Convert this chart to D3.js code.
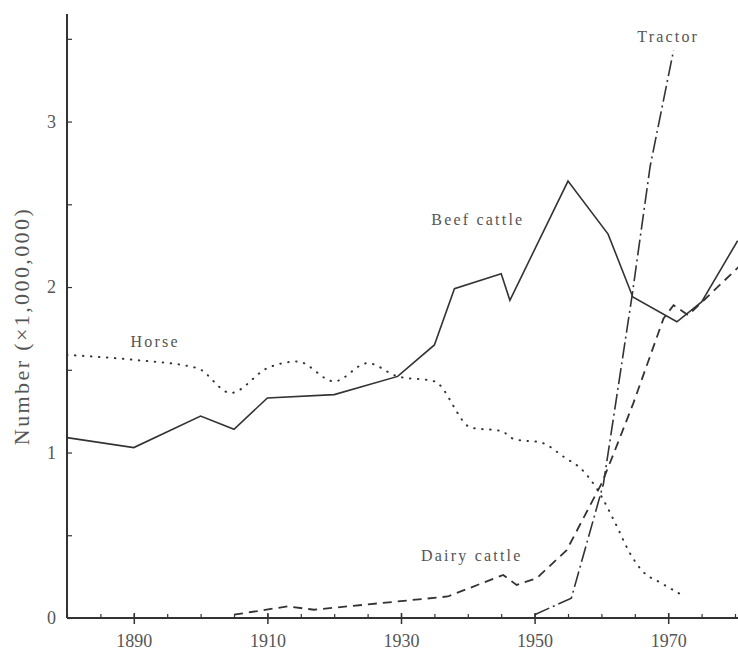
<!DOCTYPE html>
<html>
<head>
<meta charset="utf-8">
<script src="https://cdn.jsdelivr.net/npm/d3@7"></script>
<style>
  html, body { margin: 0; padding: 0; background: #fff; }
  svg { display: block; }
  text { font-family: "Liberation Serif", "DejaVu Serif", serif; fill: #555; }
</style>
</head>
<body>
<svg id="chart" width="738" height="650"></svg>
<script>
// ---- Data (years, values in millions) ----
const beefYears   = [1880, 1890, 1900, 1905, 1910, 1920, 1929.5, 1935, 1938, 1945, 1946.3, 1955, 1961, 1964.7, 1971.3, 1975, 1980.4];
const beefValues  = [1.09, 1.03, 1.22, 1.14, 1.33, 1.35, 1.46, 1.65, 1.99, 2.08, 1.92, 2.64, 2.32, 1.94, 1.79, 1.91, 2.28];

const horseYears  = [1880, 1890, 1899.5, 1904.5, 1910, 1914.5, 1920, 1925, 1929.5, 1935, 1940.5, 1945, 1947, 1951, 1954.5, 1957, 1959.5, 1962, 1964.3, 1966, 1969, 1972.5];
const horseValues = [1.59, 1.56, 1.51, 1.36, 1.51, 1.55, 1.43, 1.54, 1.46, 1.43, 1.15, 1.13, 1.08, 1.06, 0.97, 0.90, 0.77, 0.58, 0.39, 0.29, 0.21, 0.13];

const dairyYears  = [1905, 1913, 1917, 1937, 1945.3, 1946.3, 1947.3, 1950.3, 1954.8, 1958.3, 1960, 1962, 1964.8, 1969.3, 1970.8, 1973, 1980.5];
const dairyValues = [0.02, 0.07, 0.05, 0.13, 0.26, 0.23, 0.20, 0.24, 0.41, 0.68, 0.81, 1.01, 1.30, 1.81, 1.89, 1.83, 2.12];

const tractorYears  = [1950, 1955.5, 1960.3, 1964.6, 1967.3, 1970.8];
const tractorValues = [0.02, 0.12, 0.81, 1.95, 2.73, 3.43];

const xMinorTicks = d3.range(1880, 1981, 5);
const xMajorTicks = [1890, 1910, 1930, 1950, 1970];
const yTicks = [0, 0.5, 1, 1.5, 2, 2.5, 3, 3.5];
const yLabelTicks = [0, 1, 2, 3];

const seriesLabels = [
  { text: "Horse", year: 1893.2, value: 1.635 },
  { text: "Beef cattle", year: 1941.5, value: 2.375 },
  { text: "Dairy cattle", year: 1940.6, value: 0.345 },
  { text: "Tractor", year: 1970.0, value: 3.48 }
];
const yTitle = "Number (\u00d71,000,000)";

// ---- Layout ----
const svg = d3.select("#chart");
const x = d3.scaleLinear().domain([1880, 1980]).range([67, 735]);
const y = d3.scaleLinear().domain([0, 3.65]).range([618, 14]);
const ink = "#333";

// Axes
const xMinor = svg.append("g")
  .attr("transform", `translate(0,${y(0)})`)
  .call(d3.axisBottom(x).tickValues(xMinorTicks).tickSize(-4).tickSizeOuter(0).tickFormat(""));
xMinor.select(".domain").attr("stroke", ink).attr("stroke-width", 2)
  .attr("d", `M${x(1880)},0H${x(1980) + 3}`);
xMinor.selectAll(".tick line").attr("stroke", ink).attr("stroke-width", 1.2);

const xMajor = svg.append("g")
  .attr("transform", `translate(0,${y(0)})`)
  .call(d3.axisBottom(x).tickValues(xMajorTicks).tickSize(6).tickSizeOuter(0).tickPadding(10).tickFormat(d3.format("d")));
xMajor.select(".domain").remove();
xMajor.selectAll(".tick line").attr("stroke", ink).attr("stroke-width", 1.5).attr("y1", -5);
xMajor.selectAll(".tick text").attr("font-size", 18).attr("fill", "#555")
  .style("font-family", '"Liberation Serif", serif');

const yAxis = svg.append("g")
  .attr("transform", `translate(${x(1880)},0)`)
  .call(d3.axisLeft(y).tickValues(yTicks).tickSize(-5).tickSizeOuter(0).tickPadding(11)
    .tickFormat(d => yLabelTicks.includes(d) ? d3.format("d")(d) : ""));
yAxis.select(".domain").attr("stroke", ink).attr("stroke-width", 2)
  .attr("d", `M0,${y(3.65)}V${y(0)}`);
yAxis.selectAll(".tick line").attr("stroke", ink).attr("stroke-width", 1.2);
yAxis.selectAll(".tick text").attr("font-size", 18).attr("fill", "#555")
  .style("font-family", '"Liberation Serif", serif');

// Y title
svg.append("text")
  .attr("transform", `translate(29,${326}) rotate(-90)`)
  .attr("text-anchor", "middle")
  .attr("font-size", 22)
  .attr("letter-spacing", 2.4)
  .text(yTitle);

// Lines
const mk = (xs, vs) => xs.map((d, i) => [d, vs[i]]);
const lineLin = d3.line().x(d => x(d[0])).y(d => y(d[1]));
const lineSmooth = d3.line().x(d => x(d[0])).y(d => y(d[1])).curve(d3.curveMonotoneX);

svg.append("path").datum(mk(horseYears, horseValues))
  .attr("d", lineSmooth).attr("fill", "none").attr("stroke", ink)
  .attr("stroke-width", 2).attr("stroke-linecap", "round")
  .attr("stroke-dasharray", "0.5,7.5");

svg.append("path").datum(mk(dairyYears, dairyValues))
  .attr("d", lineLin).attr("fill", "none").attr("stroke", ink)
  .attr("stroke-width", 1.8).attr("stroke-dasharray", "9,6");

svg.append("path").datum(mk(tractorYears, tractorValues))
  .attr("d", lineLin).attr("fill", "none").attr("stroke", ink)
  .attr("stroke-width", 1.6).attr("stroke-dasharray", "16,4,2,4");

svg.append("path").datum(mk(beefYears, beefValues))
  .attr("d", lineLin).attr("fill", "none").attr("stroke", ink)
  .attr("stroke-width", 1.6).attr("stroke-linejoin", "miter");

// Series labels
svg.selectAll("text.series").data(seriesLabels).enter().append("text")
  .attr("class", "series")
  .attr("x", d => x(d.year)).attr("y", d => y(d.value))
  .attr("text-anchor", "middle")
  .attr("font-size", 16).attr("letter-spacing", 2.2)
  .text(d => d.text);
</script>
</body>
</html>
